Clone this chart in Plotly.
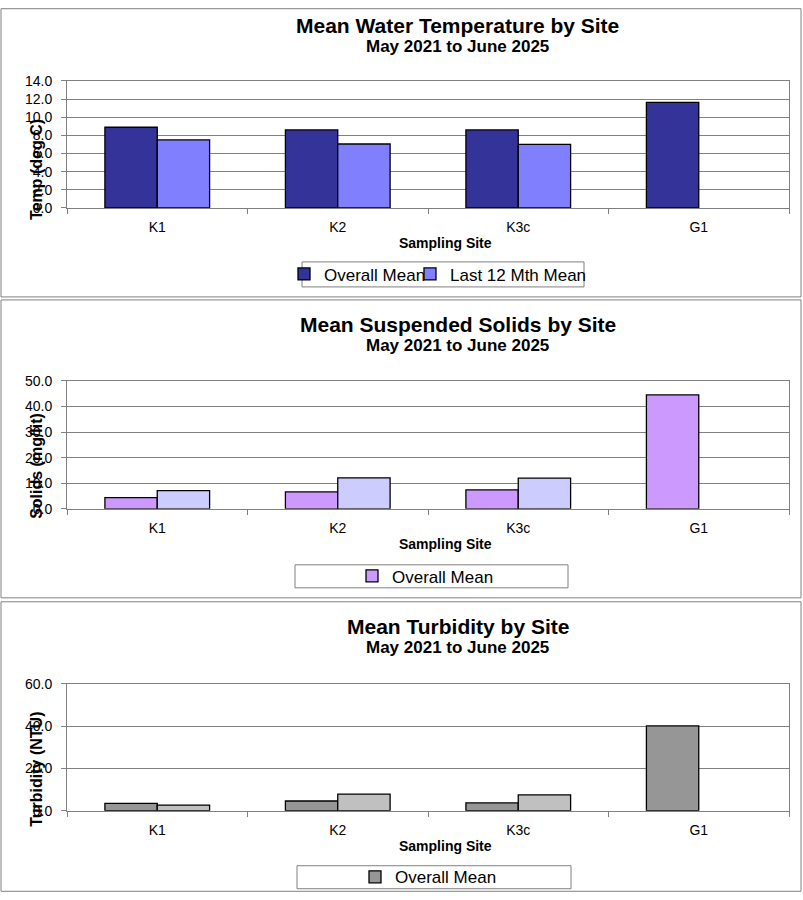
import plotly.graph_objects as go

# ---------------- data ----------------
sites = ["K1", "K2", "K3c", "G1"]
series_names = ["Overall Mean", "Last 12 Mth Mean"]

temp_overall = [8.9, 8.6, 8.6, 11.65]
temp_last12 = [7.5, 7.05, 7.0, None]

solids_overall = [4.4, 6.6, 7.4, 44.5]
solids_last12 = [7.1, 12.1, 12.0, None]

turb_overall = [3.5, 4.6, 3.7, 40.1]
turb_last12 = [2.7, 7.9, 7.5, None]

titles = ["Mean Water Temperature by Site", "Mean Suspended Solids by Site", "Mean Turbidity by Site"]
subtitle = "May 2021 to June 2025"
y_titles = ["Temp (deg C)", "Solids (mg/lit)", "Turbidity (NTU)"]
x_title = "Sampling Site"

# ---------------- layout helpers ----------------
W, H = 803, 900
FONT = "Liberation Sans, Arial, sans-serif"
# the page is photographed with an 8px band above/below the figure,
# so vertical pixel targets are pre-compensated
V_OFF, V_SCALE = 8.0, 916.0 / 900.0


def px(x):
    return x / W


def py(y):
    fy = (y - V_OFF) * V_SCALE
    return 1 - fy / H


def py_clamped(y):
    return min(max(py(y), 0.0008), 0.9992)


panels = [
    dict(top=1, bottom=297, plot_top=81, plot_bot=208, rng=[0, 14], dtick=2,
         data=(temp_overall, temp_last12), colors=("#333399", "#8080FF"),
         legend_box=(302, 262, 584, 287), legend_x=(284, 410), both=True, ytitle_c=170),
    dict(top=300, bottom=598, plot_top=381, plot_bot=509, rng=[0, 50], dtick=10,
         data=(solids_overall, solids_last12), colors=("#CC99FF", "#CCCCFF"),
         legend_box=(295, 565, 568, 588), legend_x=(352, None), both=False, ytitle_c=466),
    dict(top=602, bottom=899, plot_top=684, plot_bot=811, rng=[0, 60], dtick=20,
         data=(turb_overall, turb_last12), colors=("#969696", "#C0C0C0"),
         legend_box=(297, 866, 571, 889), legend_x=(355, None), both=False, ytitle_c=770),
]

fig = go.Figure()
shapes = []
annotations = []
layout_updates = {}


def legend_cfg(xpix, ymid):
    return dict(
        x=px(xpix), xanchor="left", y=py(ymid), yanchor="middle",
        orientation="h", bgcolor="rgba(0,0,0,0)", borderwidth=0,
        font=dict(family=FONT, size=17, color="black"), itemwidth=30,
        traceorder="normal", tracegroupgap=0,
    )


for i, p in enumerate(panels):
    n = i + 1
    xa = "x" if n == 1 else f"x{n}"
    ya = "y" if n == 1 else f"y{n}"
    lg = "legend" if n == 1 else f"legend{n}"
    lg_b = "legend4" if p["both"] else lg
    ov, l12 = p["data"]
    c0, c1 = p["colors"]
    fig.add_trace(go.Bar(x=sites, y=ov, name=series_names[0], xaxis=xa, yaxis=ya,
                         marker=dict(color=c0, line=dict(color="black", width=1.3)),
                         legend=lg, showlegend=True))
    fig.add_trace(go.Bar(x=sites, y=l12, name=series_names[1], xaxis=xa, yaxis=ya,
                         marker=dict(color=c1, line=dict(color="black", width=1.3)),
                         legend=lg_b, showlegend=p["both"]))

    xkey = "xaxis" if n == 1 else f"xaxis{n}"
    ykey = "yaxis" if n == 1 else f"yaxis{n}"
    layout_updates[xkey] = dict(
        domain=[px(67), px(789)], anchor=ya, type="category",
        categoryorder="array", categoryarray=sites,
        showline=True, linecolor="#808080", linewidth=1, mirror=True,
        ticks="outside", tickson="boundaries", ticklen=5, tickcolor="#808080",
        ticklabelstandoff=6,
        showgrid=False, tickfont=dict(family=FONT, size=14, color="black"),
        fixedrange=True,
    )
    layout_updates[ykey] = dict(
        domain=[py(p["plot_bot"]), py(p["plot_top"])], anchor=xa,
        range=p["rng"], dtick=p["dtick"], tick0=0, tickformat=".1f",
        showline=True, linecolor="#808080", linewidth=1, mirror=True,
        ticks="outside", ticklen=5, tickcolor="#808080", ticklabelstandoff=6,
        showgrid=True, gridcolor="#808080", gridwidth=1, zeroline=False,
        tickfont=dict(family=FONT, size=14, color="black"),
        fixedrange=True,
    )

    # panel border
    shapes.append(dict(type="rect", xref="paper", yref="paper",
                       x0=px(1), x1=px(801), y0=py_clamped(p["bottom"]), y1=py_clamped(p["top"]),
                       line=dict(color="#808080", width=1), fillcolor="rgba(0,0,0,0)",
                       layer="below"))
    # legend box
    lx0, ly0, lx1, ly1 = p["legend_box"]
    ymid = (ly0 + ly1) / 2
    shapes.append(dict(type="rect", xref="paper", yref="paper",
                       x0=px(lx0), x1=px(lx1), y0=py(ly1), y1=py(ly0),
                       line=dict(color="#808080", width=1), fillcolor="white",
                       layer="below"))
    layout_updates[lg] = legend_cfg(p["legend_x"][0], ymid)
    if p["both"]:
        layout_updates["legend4"] = legend_cfg(p["legend_x"][1], ymid)

    # titles
    annotations.append(dict(text=f"<b>{titles[i]}</b>", xref="paper", yref="paper",
                            x=px(458), y=py(p["top"] + 25), xanchor="center", yanchor="middle",
                            showarrow=False, font=dict(family=FONT, size=21, color="black")))
    annotations.append(dict(text=f"<b>{subtitle}</b>", xref="paper", yref="paper",
                            x=px(458), y=py(p["top"] + 46), xanchor="center", yanchor="middle",
                            showarrow=False, font=dict(family=FONT, size=17, color="black")))
    annotations.append(dict(text=f"<b>{x_title}</b>", xref="paper", yref="paper",
                            x=px(445), y=py(p["plot_bot"] + 35), xanchor="center", yanchor="middle",
                            showarrow=False, font=dict(family=FONT, size=14, color="black")))
    annotations.append(dict(text=f"<b>{y_titles[i]}</b>", xref="paper", yref="paper",
                            x=px(37), y=py(p["ytitle_c"]), xanchor="center", yanchor="middle",
                            textangle=-90, showarrow=False,
                            font=dict(family=FONT, size=16, color="black")))

fig.update_layout(
    width=W, height=H, autosize=False,
    margin=dict(l=0, r=0, t=0, b=0),
    paper_bgcolor="white", plot_bgcolor="white",
    barmode="group", bargap=0.42, bargroupgap=0,
    font=dict(family=FONT, color="black"),
    shapes=shapes, annotations=annotations,
    **layout_updates,
)

fig.write_html(
    "out.html",
    config={"displayModeBar": False},
    post_script=(
        "document.documentElement.style.margin='0';document.body.style.margin='0';"
        "document.body.style.padding='0';document.body.style.overflow='hidden';"
        "var gd=document.getElementById('{plot_id}');"
        "gd.style.position='fixed';gd.style.top='0px';gd.style.left='0px';"
    ),
)
